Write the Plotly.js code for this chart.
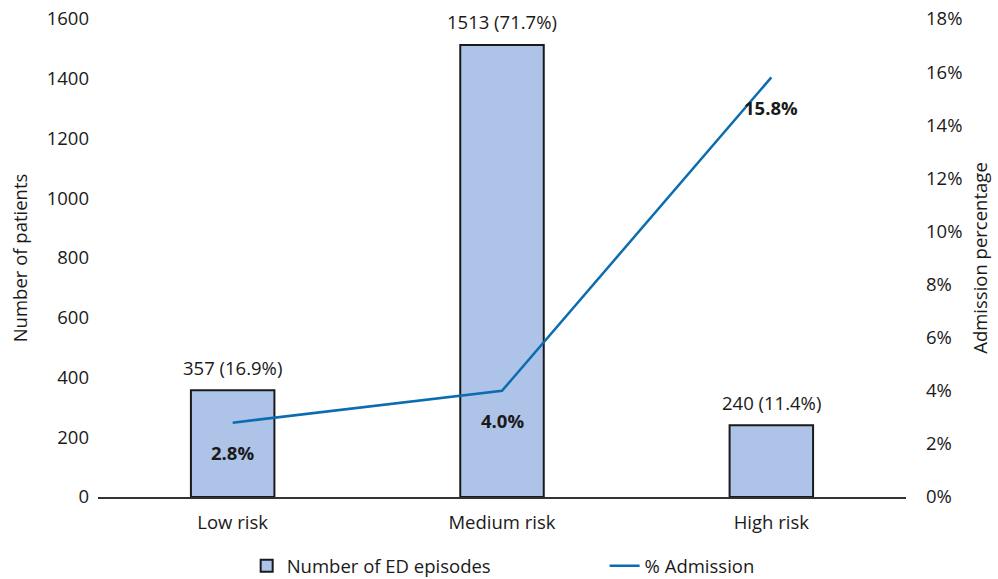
<!DOCTYPE html>
<html>
<head>
<meta charset="utf-8">
<script src="https://cdn.plot.ly/plotly-3.0.1.min.js"></script>
<style>html,body{margin:0;padding:0;background:#fff}#chart{width:998px;height:579px}</style>
</head>
<body>
<div id="chart"></div>
<script>
const categories = ["Low risk", "Medium risk", "High risk"];
const episodes = [357, 1513, 240];
const episodeShare = ["16.9%", "71.7%", "11.4%"];
const admissionPct = [0.028, 0.040, 0.158];
const admissionLabels = ["2.8%", "4.0%", "15.8%"];
const leftTicks = [0, 200, 400, 600, 800, 1000, 1200, 1400, 1600];
const rightTicks = [0, 0.02, 0.04, 0.06, 0.08, 0.10, 0.12, 0.14, 0.16, 0.18];

const font = "Open Sans, sans-serif";
const fs = 18.5;
const barText = episodes.map((v, i) => v + " (" + episodeShare[i] + ")");

const traces = [
  {
    type: "bar", x: categories, y: episodes, name: "Number of ED episodes", legend: "legend",
    marker: {color: "#aec3e8", line: {color: "#1a1a1a", width: 2}},
    hoverinfo: "skip"
  },
  {
    type: "scatter", mode: "lines", x: categories, y: admissionPct, yaxis: "y2", legend: "legend2",
    name: "% Admission", line: {color: "#0b6cb0", width: 2.5}, hoverinfo: "skip"
  }
];

const barAnnotations = categories.map((c, i) => ({
  x: c, y: episodes[i], xref: "x", yref: "y", text: barText[i],
  showarrow: false, yanchor: "middle", yshift: 23, font: {family: font, size: fs, color: "#1a1a1a"}
}));
const lineAnnotations = categories.map((c, i) => ({
  x: c, y: admissionPct[i], xref: "x", yref: "y2", text: "<b>" + admissionLabels[i] + "</b>",
  showarrow: false, yshift: -30, font: {family: font, size: fs, color: "#1a1a1a"}
}));

const legendBase = {orientation: "h", xanchor: "left", xref: "paper", y: 0.022, yanchor: "middle",
                    yref: "container", font: {family: font, size: fs}};

const layout = {
  width: 998, height: 579,
  margin: {l: 98, r: 92, t: 19, b: 82},
  paper_bgcolor: "#fff", plot_bgcolor: "#fff",
  font: {family: font, size: fs, color: "#1a1a1a"},
  bargap: 0.69,
  showlegend: true,
  legend: Object.assign({}, legendBase, {x: 0.184}),
  legend2: Object.assign({}, legendBase, {x: 0.627}),
  xaxis: {showgrid: false, showline: true, linecolor: "#333", linewidth: 1.5, ticks: "", zeroline: false,
          ticklabelstandoff: 8, tickfont: {family: font, size: fs}},
  yaxis: {range: [0, 1600], tickvals: leftTicks, showgrid: false, zeroline: false, showline: false, ticks: "",
          ticklabelstandoff: 8,
          title: {text: "Number of patients", standoff: 14, font: {family: font, size: fs}}},
  yaxis2: {overlaying: "y", side: "right", range: [0, 0.18], tickvals: rightTicks, tickformat: ".0%",
           showgrid: false, zeroline: false, showline: false, ticks: "", ticklabelstandoff: 19,
           title: {text: "Admission percentage", standoff: 12, font: {family: font, size: fs}}},
  annotations: barAnnotations.concat(lineAnnotations)
};

Plotly.newPlot("chart", traces, layout, {displayModeBar: false, staticPlot: true});
</script>
</body>
</html>
